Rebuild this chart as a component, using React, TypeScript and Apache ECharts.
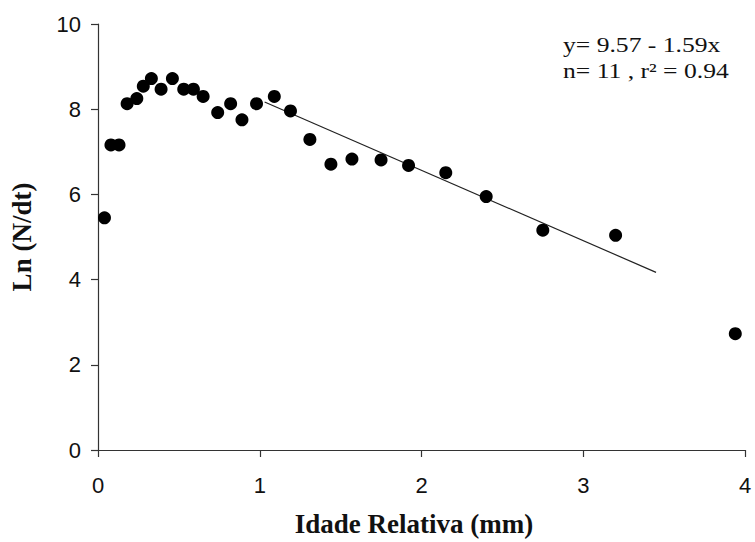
import React, { useEffect, useRef } from "react";
import * as echarts from "echarts";

const xValues = [0.04, 0.08, 0.13, 0.18, 0.24, 0.28, 0.33, 0.39, 0.46, 0.53, 0.59, 0.65, 0.74, 0.82, 0.89, 0.98, 1.09, 1.19, 1.31, 1.44, 1.57, 1.75, 1.92, 2.15, 2.4, 2.75, 3.2, 3.94];
const yValues = [5.45, 7.16, 7.16, 8.13, 8.25, 8.54, 8.72, 8.47, 8.72, 8.47, 8.47, 8.3, 7.92, 8.13, 7.75, 8.13, 8.3, 7.96, 7.29, 6.71, 6.83, 6.81, 6.68, 6.51, 5.95, 5.16, 5.04, 2.73];
const fitLine = [
  [1.03, 8.17],
  [3.45, 4.17],
];
const xTicks = [0, 1, 2, 3, 4];
const yTicks = [0, 2, 4, 6, 8, 10];
const equationLines = ["y= 9.57 - 1.59x", "n= 11 , r\u00B2 = 0.94"];
const xTitle = "Idade Relativa (mm)";
const yTitle = "Ln (N/dt)";

export default function App() {
  const ref = useRef<HTMLDivElement>(null);
  useEffect(() => {
    if (!ref.current) return;
    const chart = echarts.init(ref.current, undefined, { renderer: "svg" });
    const points = xValues.map((x, i) => [x, yValues[i]]);
    const axisColor = "#333";
    const labelStyle = {
      fontFamily: "Liberation Sans",
      fontSize: 22,
      color: "#111",
    };
    chart.setOption({
      animation: false,
      backgroundColor: "#fff",
      grid: { left: 95, right: 10, top: 24, bottom: 89 },
      xAxis: {
        type: "value",
        min: xTicks[0],
        max: xTicks[xTicks.length - 1],
        interval: 1,
        name: xTitle,
        nameLocation: "middle",
        nameGap: 60,
        nameTextStyle: {
          fontFamily: "Liberation Serif",
          fontWeight: "bold",
          fontSize: 27,
          color: "#111",
          padding: [0, 15, 0, 0],
        },
        axisLine: { show: true, onZero: false, lineStyle: { color: axisColor, width: 1.2 } },
        axisTick: { show: true, inside: false, length: 7, lineStyle: { color: axisColor, width: 1.2 } },
        axisLabel: { ...labelStyle, margin: 24 },
        splitLine: { show: false },
      },
      yAxis: {
        type: "value",
        min: yTicks[0],
        max: yTicks[yTicks.length - 1],
        interval: 2,
        name: yTitle,
        nameLocation: "middle",
        nameGap: 63,
        nameRotate: 90,
        nameTextStyle: {
          fontFamily: "Liberation Serif",
          fontWeight: "bold",
          fontSize: 27,
          color: "#111",
        },
        axisLine: { show: true, onZero: false, lineStyle: { color: axisColor, width: 1.2 } },
        axisTick: { show: true, inside: false, length: 7, lineStyle: { color: axisColor, width: 1.2 } },
        axisLabel: { ...labelStyle, margin: 17 },
        splitLine: { show: false },
      },
      graphic: equationLines.map((t, i) => ({
        type: "text",
        x: 563,
        y: 34 + i * 26,
        scaleX: 1.22,
        style: {
          text: t,
          fontFamily: "Liberation Serif",
          fontSize: 21,
          fill: "#111",
          verticalAlign: "top",
        },
      })),
      series: [
        {
          type: "line",
          data: fitLine,
          symbol: "none",
          lineStyle: { color: "#222", width: 1.2 },
          z: 2,
        },
        {
          type: "scatter",
          data: points,
          symbol: "circle",
          symbolSize: 13,
          itemStyle: { color: "#000", opacity: 1 },
          z: 3,
        },
      ],
    });
    return () => chart.dispose();
  }, []);
  return (
    <div
      ref={ref}
      style={{ position: "fixed", left: 0, top: 0, width: 755, height: 542, background: "#fff" }}
    />
  );
}
